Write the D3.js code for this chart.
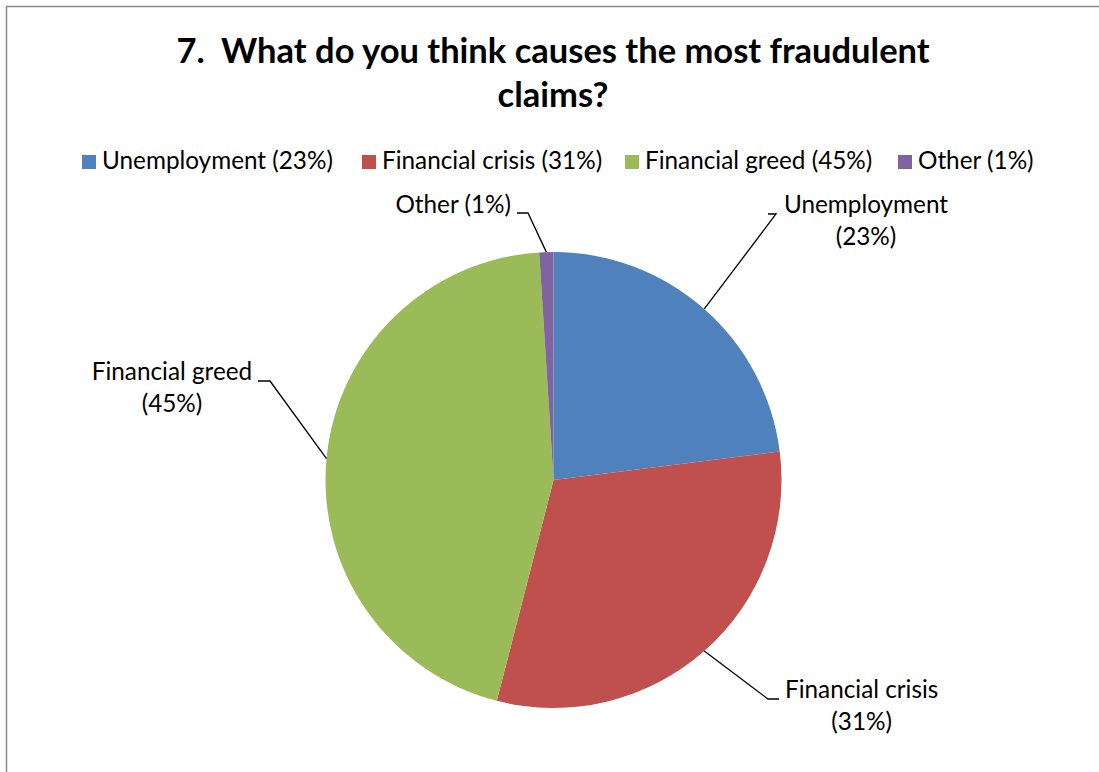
<!DOCTYPE html>
<html>
<head>
<meta charset="utf-8">
<script src="https://cdn.jsdelivr.net/npm/d3@7"></script>
<style>
  html, body { margin: 0; padding: 0; background: #fff; }
  svg { display: block; font-family: Lato, "Open Sans", sans-serif; }
  text { white-space: pre; }
</style>
</head>
<body>
<svg id="chart" width="1099" height="772"></svg>
<script>
// Survey answers, in pie order (clockwise from 12 o'clock)
const categories = ["Unemployment", "Financial crisis", "Financial greed", "Other"];
const percents = [23, 31, 45, 1];
const colors = ["#4F81BD", "#C0504D", "#9BBB59", "#8064A2"];
const titleLines = ["7.  What do you think causes the most fraudulent", "claims?"];

// Where each slice label sits: label block anchor, elbow of the leader line, text alignment
const labelLayout = [
  { x: 866, y: 213, elbowX: 776, elbowY: 214, barTo: 768, anchor: "middle" },
  { x: 785, y: 698, elbowX: 768, elbowY: 699, barTo: 779, anchor: "start" },
  { x: 172, y: 380, elbowX: 270, elbowY: 381, barTo: 258, anchor: "middle" },
  { x: 511, y: 213, elbowX: 528, elbowY: 213, barTo: 517, anchor: "end" }
];

const svg = d3.select("#chart");
const W = 1099, H = 772;
const bodySize = 24.3;

// chart frame
svg.append("rect")
  .attr("x", 6.5).attr("y", 6.5)
  .attr("width", W + 20).attr("height", H + 20)
  .attr("fill", "#fff")
  .attr("stroke", "#8a8a8a").attr("stroke-width", 1.5);

// title
const title = svg.append("text")
  .attr("text-anchor", "middle")
  .attr("font-weight", "bold")
  .attr("font-size", 34.5)
  .attr("fill", "#000");
titleLines.forEach((t, i) => {
  title.append("tspan").attr("x", 553).attr("y", 63 + i * 44).text(t);
});

// legend
const legendItems = categories.map((c, i) => `${c} (${percents[i]}%)`);
const legendX = [82, 362, 625, 898];
const legend = svg.append("g").attr("font-size", bodySize).attr("fill", "#000");
legendItems.forEach((t, i) => {
  legend.append("rect")
    .attr("x", legendX[i]).attr("y", 155)
    .attr("width", 14).attr("height", 14)
    .attr("fill", colors[i]);
  legend.append("text")
    .attr("x", legendX[i] + 20).attr("y", 169)
    .text(t);
});

// pie
const cx = 553.5, cy = 480, R = 228;
const pie = d3.pie().sort(null).value(d => d)
  .startAngle(0).endAngle(2 * Math.PI);
const arcs = pie(percents);
const arc = d3.arc().innerRadius(0).outerRadius(R);

const g = svg.append("g").attr("transform", `translate(${cx},${cy})`);
g.selectAll("path.slice")
  .data(arcs)
  .join("path")
  .attr("class", "slice")
  .attr("d", arc)
  .attr("fill", (d, i) => colors[i]);

// leader lines from the rim at each slice's mid-angle
arcs.forEach((d, i) => {
  const a = (d.startAngle + d.endAngle) / 2;
  const px = cx + R * Math.sin(a), py = cy - R * Math.cos(a);
  const L = labelLayout[i];
  svg.append("polyline")
    .attr("points", `${px},${py} ${L.elbowX},${L.elbowY} ${L.barTo},${L.elbowY}`)
    .attr("fill", "none")
    .attr("stroke", "#000")
    .attr("stroke-width", 1.3);
});

// slice labels
const labels = svg.append("g").attr("font-size", bodySize).attr("fill", "#000");
arcs.forEach((d, i) => {
  const L = labelLayout[i];
  const name = categories[i], pct = `(${percents[i]}%)`;
  if (i === 3) {
    labels.append("text").attr("x", L.x).attr("y", L.y)
      .attr("text-anchor", "end").text(`${name} ${pct}`);
    return;
  }
  const t = labels.append("text").attr("text-anchor", L.anchor);
  t.append("tspan").attr("x", L.x).attr("y", L.y).text(name);
  const t2 = labels.append("text").attr("text-anchor", "middle");
  // centre the percentage under the name
  const w = t.node().getComputedTextLength();
  const mid = L.anchor === "start" ? L.x + w / 2 : L.x;
  t2.append("tspan").attr("x", mid).attr("y", L.y + 32).text(pct);
});
</script>
</body>
</html>
